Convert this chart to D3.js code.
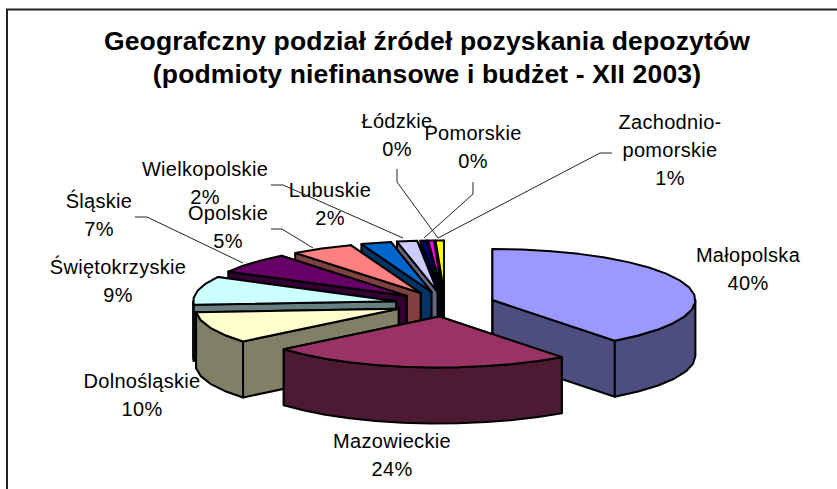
<!DOCTYPE html>
<html>
<head>
<meta charset="utf-8">
<script src="https://cdn.jsdelivr.net/npm/d3@7"></script>
<style>
  html, body { margin: 0; padding: 0; background: #fff; }
  svg { display: block; }
  text { font-family: "Liberation Sans", Arial, sans-serif; fill: #000; }
</style>
</head>
<body>
<svg id="chart" width="837" height="489"></svg>
<script>
// Data, clockwise from 12 o'clock
const regions = ['Małopolska', 'Mazowieckie', 'Dolnośląskie', 'Świętokrzyskie', 'Śląskie', 'Opolskie',
  'Lubuskie', 'Wielkopolskie', 'Łódzkie', 'Pomorskie', 'Zachodnio-pomorskie'];
const shares = [39.7, 24.2, 10, 9, 6.5, 5, 2.4, 1.6, 0.49, 0.45, 0.66];
const topColors = ['#9999FF', '#993366', '#FFFFCC', '#CCFFFF', '#660066', '#FF8080',
  '#0066CC', '#CCCCFF', '#000080', '#FF00FF', '#FFFF00'];
const titleLines = ['Geografczny podział źródeł pozyskania depozytów',
  '(podmioty niefinansowe i budżet - XII 2003)'];

// Where the labels sit (centre x, first baseline y); leader = elbow line to the slice
const labelLayout = [
  { x: 748, y: 262 },
  { x: 392, y: 448 },
  { x: 142, y: 388 },
  { x: 118, y: 274 },
  { x: 99, y: 208, leader: [[135, 217], [147, 217], [243, 263]] },
  { x: 228, y: 220, leader: [[271, 229], [282, 229], [313, 248]] },
  { x: 330, y: 197 },
  { x: 205, y: 176, leader: [[271, 185], [283, 185], [403, 238]] },
  { x: 397, y: 128, leader: [[397, 169], [397, 182], [438, 238]] },
  { x: 473, y: 140, leader: [[473, 182], [473, 194], [424, 238]] },
  { x: 670, y: 129, leader: [[612, 153], [600, 153], [438, 238]] }
];

const svg = d3.select('#chart');

// Chart frame, runs off the picture at the bottom and on the right
svg.append('path')
  .attr('d', 'M7,489V9.5H837')
  .attr('fill', 'none')
  .attr('stroke', '#222')
  .attr('stroke-width', 2);

// Title
svg.selectAll('.title')
  .data(titleLines)
  .join('text')
  .attr('class', 'title')
  .attr('x', 427)
  .attr('y', (d, i) => 50 + i * 33)
  .attr('text-anchor', 'middle')
  .style('font-size', '26.5px')
  .style('letter-spacing', '0.15px')
  .style('font-weight', 'bold')
  .text(d => d);

// Pie geometry: an extruded, squashed pie with every slice pulled out
const cx = 445, cy = 304, rx = 203, ry = 51, depth = 56, explode = 50;

const slices = d3.pie().sort(null).value(d => d)(shares).map((s, i) => {
  const mid = (s.startAngle + s.endAngle) / 2;
  return {
    i,
    a0: s.startAngle,
    a1: s.endAngle,
    ox: cx + explode * Math.sin(mid),
    oy: cy - explode * Math.cos(mid) * ry / rx
  };
});

function rim(s, a, dz) {
  return [s.ox + rx * Math.sin(a), s.oy - ry * Math.cos(a) + (dz || 0)];
}

// Arc as a coarse polyline, the source chart has a faceted outline
function arcPoints(a0, a1, s, dz) {
  const n = Math.max(1, Math.round((a1 - a0) / (Math.PI / 22)));
  return d3.range(n + 1).map(k => rim(s, a0 + (a1 - a0) * k / n, dz));
}

const line = d3.line();
const pieG = svg.append('g')
  .attr('stroke', '#000')
  .attr('stroke-width', 2)
  .attr('stroke-linejoin', 'round');

function darker(c) {
  const r = d3.rgb(c);
  return d3.rgb(r.r * 0.5, r.g * 0.5, r.b * 0.5).formatHex();
}

function drawSlice(s) {
  const top = topColors[s.i], side = darker(top);
  const apex = [s.ox, s.oy], apexLow = [s.ox, s.oy + depth];

  // radial faces
  [s.a1, s.a0].forEach(a => {
    pieG.append('path')
      .attr('d', line([apex, rim(s, a), rim(s, a, depth), apexLow]) + 'Z')
      .attr('fill', side);
  });

  // outer wall, front half only
  const w0 = Math.max(s.a0, Math.PI / 2), w1 = Math.min(s.a1, Math.PI * 1.5);
  if (w1 > w0) {
    const upper = arcPoints(w0, w1, s, 0);
    const lower = arcPoints(w0, w1, s, depth).reverse();
    pieG.append('path')
      .attr('d', line(upper.concat(lower)) + 'Z')
      .attr('fill', side);
  }

  // top face
  pieG.append('path')
    .attr('d', line([apex].concat(arcPoints(s.a0, s.a1, s, 0))) + 'Z')
    .attr('fill', top);
}

// Painter's order: back slices first, the big front two last
d3.range(slices.length - 1, 1, -1).forEach(i => drawSlice(slices[i]));
drawSlice(slices[0]);
drawSlice(slices[1]);

// Leader lines
labelLayout.filter(d => d.leader).forEach(d => {
  svg.append('path')
    .attr('d', line(d.leader))
    .attr('fill', 'none')
    .attr('stroke', '#222')
    .attr('stroke-width', 1);
});

// Labels: name then rounded percentage
regions.forEach((name, i) => {
  const pos = labelLayout[i];
  const parts = name === 'Zachodnio-pomorskie' ? ['Zachodnio-', 'pomorskie'] : [name];
  const rows = parts.concat(Math.round(shares[i]) + '%');
  const t = svg.append('text')
    .attr('text-anchor', 'middle')
    .style('font-size', '20px')
    .style('letter-spacing', '0.3px');
  rows.forEach((r, k) => {
    t.append('tspan')
      .attr('x', pos.x)
      .attr('y', pos.y + k * 28)
      .text(r);
  });
});
</script>
</body>
</html>
